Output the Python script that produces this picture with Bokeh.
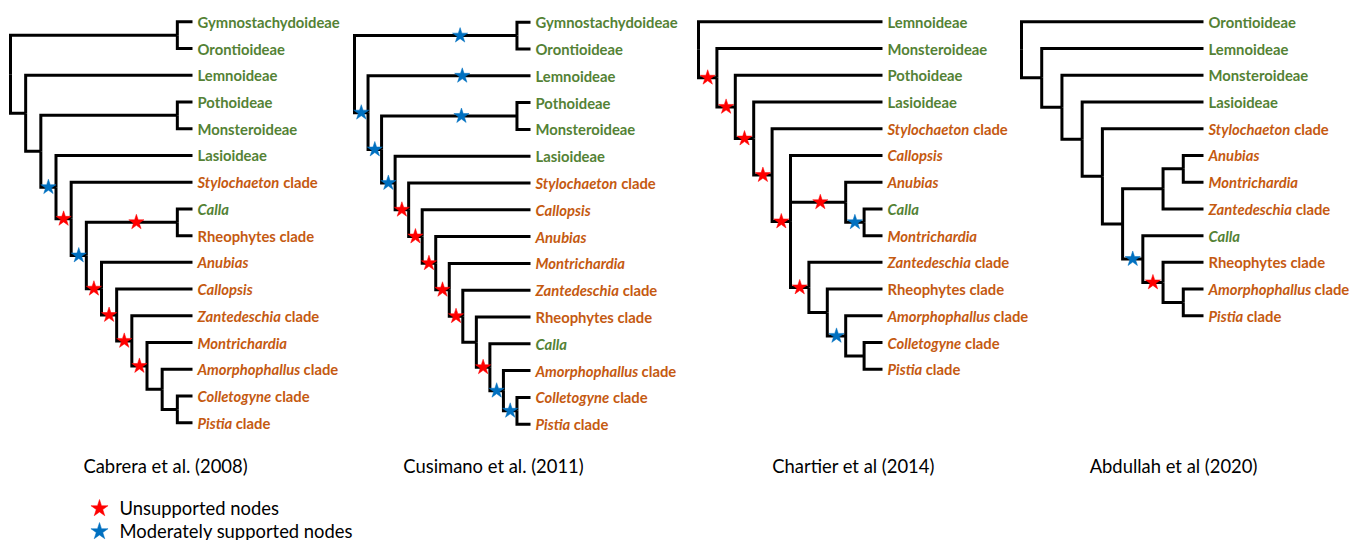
import os
import struct
import subprocess

from bokeh.plotting import figure
from bokeh.models import Range1d, ColumnDataSource
from bokeh.embed import file_html
from bokeh.resources import INLINE
from bokeh.core.properties import value

# ---------------------------------------------------------------- data
STUDIES = ["Cabrera et al. (2008)", "Cusimano et al. (2011)",
           "Chartier et al (2014)", "Abdullah et al (2020)"]

TREE_CABRERA = ("((Gymnostachydoideae,Orontioideae),(Lemnoideae,((Pothoideae,Monsteroideae),"
                "(Lasioideae,(Stylochaeton clade,((Calla,Rheophytes clade),(Anubias,(Callopsis,"
                "(Zantedeschia clade,(Montrichardia,(Amorphophallus clade,"
                "(Colletogyne clade,Pistia clade))))))))))));")
TREE_CUSIMANO = ("((Gymnostachydoideae,Orontioideae),(Lemnoideae,((Pothoideae,Monsteroideae),"
                 "(Lasioideae,(Stylochaeton clade,(Callopsis,(Anubias,(Montrichardia,"
                 "(Zantedeschia clade,(Rheophytes clade,(Calla,(Amorphophallus clade,"
                 "(Colletogyne clade,Pistia clade)))))))))))));")
TREE_CHARTIER = ("(Lemnoideae,(Monsteroideae,(Pothoideae,(Lasioideae,(Stylochaeton clade,"
                 "(Callopsis,(Anubias,(Calla,Montrichardia)),(Zantedeschia clade,"
                 "(Rheophytes clade,(Amorphophallus clade,(Colletogyne clade,Pistia clade))))))))));")
TREE_ABDULLAH = ("(Orontioideae,(Lemnoideae,(Monsteroideae,(Lasioideae,(Stylochaeton clade,"
                 "(((Anubias,Montrichardia),Zantedeschia clade),(Calla,(Rheophytes clade,"
                 "(Amorphophallus clade,Pistia clade)))))))));")
TREES = [TREE_CABRERA, TREE_CUSIMANO, TREE_CHARTIER, TREE_ABDULLAH]

# support stars: (tip a, tip b -> node = their MRCA, kind, position along branch)
STARS_CABRERA = [
    ("Lasioideae", "Pistia clade", "moderate", 0.5),
    ("Stylochaeton clade", "Pistia clade", "unsupported", 0.5),
    ("Calla", "Pistia clade", "moderate", 0.5),
    ("Calla", "Rheophytes clade", "unsupported", 0.55),
    ("Anubias", "Pistia clade", "unsupported", 0.5),
    ("Callopsis", "Pistia clade", "unsupported", 0.5),
    ("Zantedeschia clade", "Pistia clade", "unsupported", 0.5),
    ("Montrichardia", "Pistia clade", "unsupported", 0.5),
]
STARS_CUSIMANO = [
    ("Gymnostachydoideae", "Orontioideae", "moderate", 0.65),
    ("Lemnoideae", "Lemnoideae", "moderate", 0.58),
    ("Pothoideae", "Monsteroideae", "moderate", 0.59),
    ("Lemnoideae", "Pistia clade", "moderate", 0.5),
    ("Pothoideae", "Pistia clade", "moderate", 0.5),
    ("Lasioideae", "Pistia clade", "moderate", 0.5),
    ("Stylochaeton clade", "Pistia clade", "unsupported", 0.5),
    ("Callopsis", "Pistia clade", "unsupported", 0.5),
    ("Anubias", "Pistia clade", "unsupported", 0.5),
    ("Montrichardia", "Pistia clade", "unsupported", 0.5),
    ("Zantedeschia clade", "Pistia clade", "unsupported", 0.5),
    ("Calla", "Pistia clade", "unsupported", 0.5),
    ("Amorphophallus clade", "Pistia clade", "moderate", 0.5),
    ("Colletogyne clade", "Pistia clade", "moderate", 0.5),
]
STARS_CHARTIER = [
    ("Monsteroideae", "Pistia clade", "unsupported", 0.5),
    ("Pothoideae", "Pistia clade", "unsupported", 0.5),
    ("Lasioideae", "Pistia clade", "unsupported", 0.5),
    ("Stylochaeton clade", "Pistia clade", "unsupported", 0.5),
    ("Callopsis", "Pistia clade", "unsupported", 0.5),
    ("Anubias", "Montrichardia", "unsupported", 0.54),
    ("Calla", "Montrichardia", "moderate", 0.5),
    ("Zantedeschia clade", "Pistia clade", "unsupported", 0.5),
    ("Amorphophallus clade", "Pistia clade", "moderate", 0.5),
]
STARS_ABDULLAH = [
    ("Calla", "Pistia clade", "moderate", 0.5),
    ("Rheophytes clade", "Pistia clade", "unsupported", 0.5),
]
STARS = [STARS_CABRERA, STARS_CUSIMANO, STARS_CHARTIER, STARS_ABDULLAH]

GREEN_TAXA = ["Gymnostachydoideae", "Orontioideae", "Lemnoideae", "Pothoideae",
              "Monsteroideae", "Lasioideae", "Calla"]
ITALIC_GENERA = ["Stylochaeton", "Calla", "Callopsis", "Anubias", "Montrichardia",
                 "Zantedeschia", "Amorphophallus", "Colletogyne", "Pistia"]

LEGEND_KINDS = ["unsupported", "moderate"]
LEGEND_LABELS = ["Unsupported nodes", "Moderately supported nodes"]

# ---------------------------------------------------------------- styles / layout
GREEN = "#548235"
ORANGE = "#C55A11"
STAR_COLORS = {"unsupported": "#FF0000", "moderate": "#0070C0"}
FONT = "Lato"

# per panel: root x, tip x, first tip y, tip spacing, title centre x (page pixels)
PANELS = [
    dict(x_root=10, x_tip=192, y_top=21.3, dy=26.73, title_x=165),
    dict(x_root=354, x_tip=530, y_top=21.7, dy=26.8, title_x=493),
    dict(x_root=698, x_tip=882, y_top=21.3, dy=26.73, title_x=853),
    dict(x_root=1021, x_tip=1203, y_top=21.3, dy=26.73, title_x=1173),
]
LABEL_GAP = 5
TITLE_Y = 465
LEGEND_X = 99
LEGEND_Y = [508, 531]
W, H = 1353, 540


# ---------------------------------------------------------------- font metrics
def _font_path(pattern):
    try:
        r = subprocess.run(["fc-match", "-f", "%{file}", pattern],
                           capture_output=True, text=True, timeout=10)
        path = r.stdout.strip()
        return path if path and os.path.exists(path) else None
    except Exception:
        return None


def _advance_fn(path):
    data = open(path, "rb").read()
    base = 0
    if data[:4] == b"ttcf":
        base = struct.unpack(">I", data[12:16])[0]
    num = struct.unpack(">H", data[base + 4:base + 6])[0]
    tabs = {}
    for i in range(num):
        rec = base + 12 + 16 * i
        tag, _, off, _ln = struct.unpack(">4sIII", data[rec:rec + 16])
        tabs[tag] = off
    upem = struct.unpack(">H", data[tabs[b"head"] + 18:tabs[b"head"] + 20])[0]
    nhm = struct.unpack(">H", data[tabs[b"hhea"] + 34:tabs[b"hhea"] + 36])[0]
    hm = tabs[b"hmtx"]
    cm = tabs[b"cmap"]
    nsub = struct.unpack(">H", data[cm + 2:cm + 4])[0]
    sub = None
    for i in range(nsub):
        pid, eid, off = struct.unpack(">HHI", data[cm + 4 + 8 * i:cm + 12 + 8 * i])
        fmt = struct.unpack(">H", data[cm + off:cm + off + 2])[0]
        if fmt == 4 and (pid == 0 or (pid == 3 and eid == 1)):
            sub = cm + off
            break
    if sub is None:
        raise ValueError("no cmap")
    seg2 = struct.unpack(">H", data[sub + 6:sub + 8])[0]
    ns = seg2 // 2
    ends = struct.unpack(">%dH" % ns, data[sub + 14:sub + 14 + seg2])
    starts = struct.unpack(">%dH" % ns, data[sub + 16 + seg2:sub + 16 + 2 * seg2])
    deltas = struct.unpack(">%dh" % ns, data[sub + 16 + 2 * seg2:sub + 16 + 3 * seg2])
    ro_base = sub + 16 + 3 * seg2
    ros = struct.unpack(">%dH" % ns, data[ro_base:ro_base + seg2])

    def gid(c):
        for i in range(ns):
            if ends[i] >= c:
                if starts[i] > c:
                    return 0
                if ros[i] == 0:
                    return (c + deltas[i]) & 0xFFFF
                a = ro_base + 2 * i + ros[i] + 2 * (c - starts[i])
                g = struct.unpack(">H", data[a:a + 2])[0]
                return ((g + deltas[i]) & 0xFFFF) if g else 0
        return 0

    def adv(g):
        g = min(g, nhm - 1)
        return struct.unpack(">H", data[hm + 4 * g:hm + 4 * g + 2])[0]

    return lambda s: sum(adv(gid(ord(ch))) for ch in s) / upem


def width_fn(style):
    path = _font_path(FONT + ":" + style)
    if path:
        try:
            f = _advance_fn(path)
            f("test")
            return f
        except Exception:
            pass
    return lambda s: 0.53 * len(s)


w_bold = width_fn("bold")
w_bold_italic = width_fn("bold:italic")
w_regular = width_fn("regular")

LABEL_SIZE = round(143.0 / w_bold("Gymnostachydoideae"), 1)
TITLE_SIZE = round(165.0 / w_regular("Cabrera et al. (2008)"), 1)


# ---------------------------------------------------------------- tree helpers
def parse_newick(s):
    s = s.strip().rstrip(";")
    pos = 0

    def node():
        nonlocal pos
        if s[pos] == "(":
            pos += 1
            kids = [node()]
            while s[pos] == ",":
                pos += 1
                kids.append(node())
            pos += 1  # ')'
            return {"children": kids}
        j = pos
        while pos < len(s) and s[pos] not in ",()":
            pos += 1
        return {"name": s[j:pos].strip(), "children": []}

    return node()


def layout(tree, x_root, x_tip, y_top, dy):
    tips = []

    def collect(n):
        if not n["children"]:
            tips.append(n)
        for c in n["children"]:
            collect(c)

    collect(tree)
    for i, t in enumerate(tips):
        t["y"] = y_top + i * dy
        t["h"] = 0
        t["leaves"] = {t["name"]}

    def post(n):
        if n["children"]:
            for c in n["children"]:
                post(c)
            n["h"] = 1 + max(c["h"] for c in n["children"])
            n["y"] = (n["children"][0]["y"] + n["children"][-1]["y"]) / 2.0
            n["leaves"] = set().union(*(c["leaves"] for c in n["children"]))

    post(tree)
    Hr = tree["h"]
    nodes = []

    def setx(n, parent):
        n["x"] = x_root + (x_tip - x_root) * (Hr - n["h"]) / Hr
        n["parent"] = parent
        nodes.append(n)
        for c in n["children"]:
            setx(c, n)

    setx(tree, None)
    return tips, nodes


def mrca(nodes, a, b):
    best = None
    for n in nodes:
        if a in n["leaves"] and b in n["leaves"]:
            if best is None or len(n["leaves"]) < len(best["leaves"]):
                best = n
    return best


# ---------------------------------------------------------------- figure
p = figure(width=W, height=H, x_range=Range1d(0, W), y_range=Range1d(H, 0),
           output_backend="svg", toolbar_location=None, min_border=0,
           x_axis_location=None, y_axis_location=None)
p.grid.visible = False
p.outline_line_color = None
p.background_fill_color = "white"
p.border_fill_color = "white"

edge_xs, edge_ys = [], []
star_x, star_y, star_c = [], [], []
lab_up = dict(x=[], y=[], text=[], color=[])
lab_it = dict(x=[], y=[], text=[], color=[])

for newick, stars, cfg in zip(TREES, STARS, PANELS):
    tree = parse_newick(newick)
    tips, nodes = layout(tree, cfg["x_root"], cfg["x_tip"], cfg["y_top"], cfg["dy"])
    for n in nodes:
        for c in n["children"]:
            edge_xs.append([n["x"], n["x"], c["x"]])
            edge_ys.append([n["y"], c["y"], c["y"]])
    for a, b, kind, frac in stars:
        n = mrca(nodes, a, b)
        par = n["parent"]
        star_x.append(par["x"] + frac * (n["x"] - par["x"]))
        star_y.append(n["y"])
        star_c.append(STAR_COLORS[kind])
    for t in tips:
        name = t["name"]
        color = GREEN if name in GREEN_TAXA else ORANGE
        x0 = cfg["x_tip"] + LABEL_GAP
        words = name.split(" ", 1)
        if words[0] in ITALIC_GENERA:
            lab_it["x"].append(x0); lab_it["y"].append(t["y"])
            lab_it["text"].append(words[0]); lab_it["color"].append(color)
            if len(words) > 1:
                off = w_bold_italic(words[0] + " ") * LABEL_SIZE
                lab_up["x"].append(x0 + off); lab_up["y"].append(t["y"])
                lab_up["text"].append(words[1]); lab_up["color"].append(color)
        else:
            lab_up["x"].append(x0); lab_up["y"].append(t["y"])
            lab_up["text"].append(name); lab_up["color"].append(color)

p.multi_line(xs=edge_xs, ys=edge_ys, line_color="black", line_width=3,
             line_join="miter", line_cap="butt")
p.scatter(x=star_x, y=star_y, marker="star", size=16, fill_color=star_c,
          line_color=star_c, line_width=0.5)

p.text(x="x", y="y", text="text", text_color="color", source=ColumnDataSource(lab_up),
       text_font=value(FONT), text_font_style="bold", text_font_size=f"{LABEL_SIZE}px",
       text_baseline="middle", text_align="left")
p.text(x="x", y="y", text="text", text_color="color", source=ColumnDataSource(lab_it),
       text_font=value(FONT), text_font_style="bold italic", text_font_size=f"{LABEL_SIZE}px",
       text_baseline="middle", text_align="left")

# titles
p.text(x=[c["title_x"] for c in PANELS], y=[TITLE_Y] * len(STUDIES), text=STUDIES,
       text_font=value(FONT), text_font_size=f"{TITLE_SIZE}px", text_color="black",
       text_baseline="middle", text_align="center")

# legend
p.scatter(x=[LEGEND_X] * 2, y=LEGEND_Y, marker="star", size=18,
          fill_color=[STAR_COLORS[k] for k in LEGEND_KINDS],
          line_color=[STAR_COLORS[k] for k in LEGEND_KINDS], line_width=0.5)
p.text(x=[LEGEND_X + 20] * 2, y=[v - 1 for v in LEGEND_Y], text=LEGEND_LABELS,
       text_font=value(FONT), text_font_size=f"{TITLE_SIZE}px", text_color="black",
       text_baseline="middle", text_align="left")

open("out.html", "w").write(file_html(p, INLINE))
